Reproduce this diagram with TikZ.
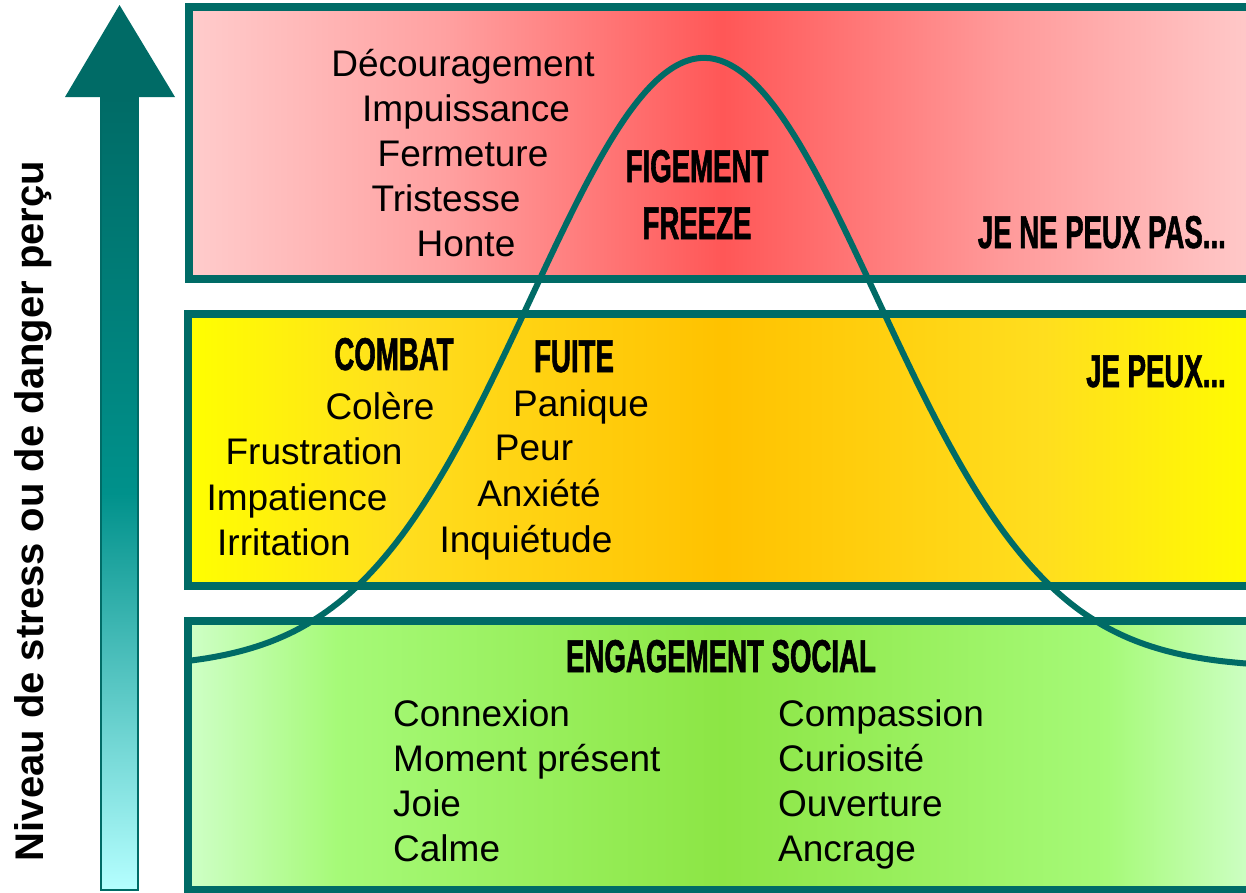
\documentclass[tikz,border=0pt]{standalone}
\usepackage{fontspec}
\setmainfont{Liberation Sans}
\newfontfamily\headfont[FakeStretch=0.6, FakeBold=1.2]{Liberation Sans}
\usepackage{tikz}
\usetikzlibrary{arrows.meta,positioning,calc}
\tikzset{>=Stealth}

% Degradados de las franjas (la franja ocupa de 25bp a 75bp)
\definecolor{teal}{HTML}{006B66}
\pgfdeclarehorizontalshading{rouge}{100bp}{rgb(0bp)=(1,0.80,0.80); rgb(25bp)=(1,0.80,0.80);
  rgb(37bp)=(1,0.63,0.63); rgb(50bp)=(1,0.34,0.34); rgb(63bp)=(1,0.60,0.60);
  rgb(75bp)=(1,0.79,0.79); rgb(100bp)=(1,0.79,0.79)}
\pgfdeclarehorizontalshading{jaune}{100bp}{rgb(0bp)=(1,1,0); rgb(25bp)=(1,1,0);
  rgb(35bp)=(1,0.87,0.12); rgb(50bp)=(1,0.76,0); rgb(65bp)=(1,0.87,0.12);
  rgb(75bp)=(1,0.99,0); rgb(100bp)=(1,0.99,0)}
\pgfdeclarehorizontalshading{vert}{100bp}{rgb(0bp)=(0.81,1,0.78); rgb(25bp)=(0.81,1,0.78);
  rgb(32bp)=(0.65,0.98,0.47); rgb(50bp)=(0.55,0.90,0.27); rgb(68bp)=(0.65,0.98,0.47);
  rgb(75bp)=(0.81,1,0.78); rgb(100bp)=(0.81,1,0.78)}

\begin{document}
\begin{tikzpicture}[x=1pt, y=-1pt] % 1 unidad = 1 px
\definecolor{arrowmid}{HTML}{00918B}
\definecolor{arrowlow}{HTML}{B5FFFF}
\tikzset{
  band/.style={draw=teal, line width=8pt},
  emo/.style={inner sep=0pt, anchor=base, font=\fontsize{37}{44}\selectfont},
  zone/.style={inner sep=0pt, anchor=base, font=\fontsize{46}{52}\selectfont\headfont\bfseries}
}
\useasboundingbox (0,0) rectangle (1246,892);

% Franjas
\shade[band, shading=rouge] (189,7) rectangle (1256,279);
\shade[band, shading=jaune] (188,314) rectangle (1256,586);
\shade[band, shading=vert] (188,621) rectangle (1256,890);

% Curva
\draw[teal, line width=6pt] plot[domain=-2.98:3.2, samples=120, smooth]
  ({704+173*\x},{668-610*exp(-0.5*\x*\x)});

% Flecha
\shade[top color=teal, bottom color=arrowlow, middle color=arrowmid, draw=teal, line width=2pt]
  (101,96) rectangle (138,890);
\fill[teal] (65,97) -- (119.5,5) -- (175,97) -- cycle;
\node[rotate=90, font=\fontsize{40}{46}\selectfont\bfseries] (eje) at (33,511) {Niveau de stress ou de danger perçu};

% Zonas
\node[zone] (figement) at (697,182) {FIGEMENT};
\node[zone] (freeze) at (697,239) {FREEZE};
\node[zone, anchor=base east] (nopuedo) at (1226,248) {JE NE PEUX PAS...};
\node[zone] (combat) at (394,370) {COMBAT};
\node[zone] (fuite) at (574,372) {FUITE};
\node[zone, anchor=base east] (puedo) at (1226,387) {JE PEUX...};
\node[zone] (social) at (721,672) {ENGAGEMENT SOCIAL};

% Emociones
\foreach \t/\x/\y [count=\i] in {Découragement/463/76, Impuissance/466/121,
  Fermeture/463/166, Tristesse/446/211, Honte/466/256}
  \node[emo] (rouge\i) at (\x,\y) {\t};
\foreach \t/\x/\y [count=\i] in {Colère/380/419, Frustration/314/464,
  Impatience/297/510, Irritation/284/555}
  \node[emo] (combat\i) at (\x,\y) {\t};
\foreach \t/\x/\y [count=\i] in {Panique/581/416, Peur/534/460,
  Anxiété/539/506, Inquiétude/526/552}
  \node[emo] (fuite\i) at (\x,\y) {\t};
\foreach \t/\y [count=\i] in {Connexion/726, Moment présent/771, Joie/816, Calme/861}
  \node[emo, anchor=base west] (vertg\i) at (393,\y) {\t};
\foreach \t/\y [count=\i] in {Compassion/726, Curiosité/771, Ouverture/816, Ancrage/861}
  \node[emo, anchor=base west] (vertd\i) at (778,\y) {\t};

\end{tikzpicture}
\end{document}
